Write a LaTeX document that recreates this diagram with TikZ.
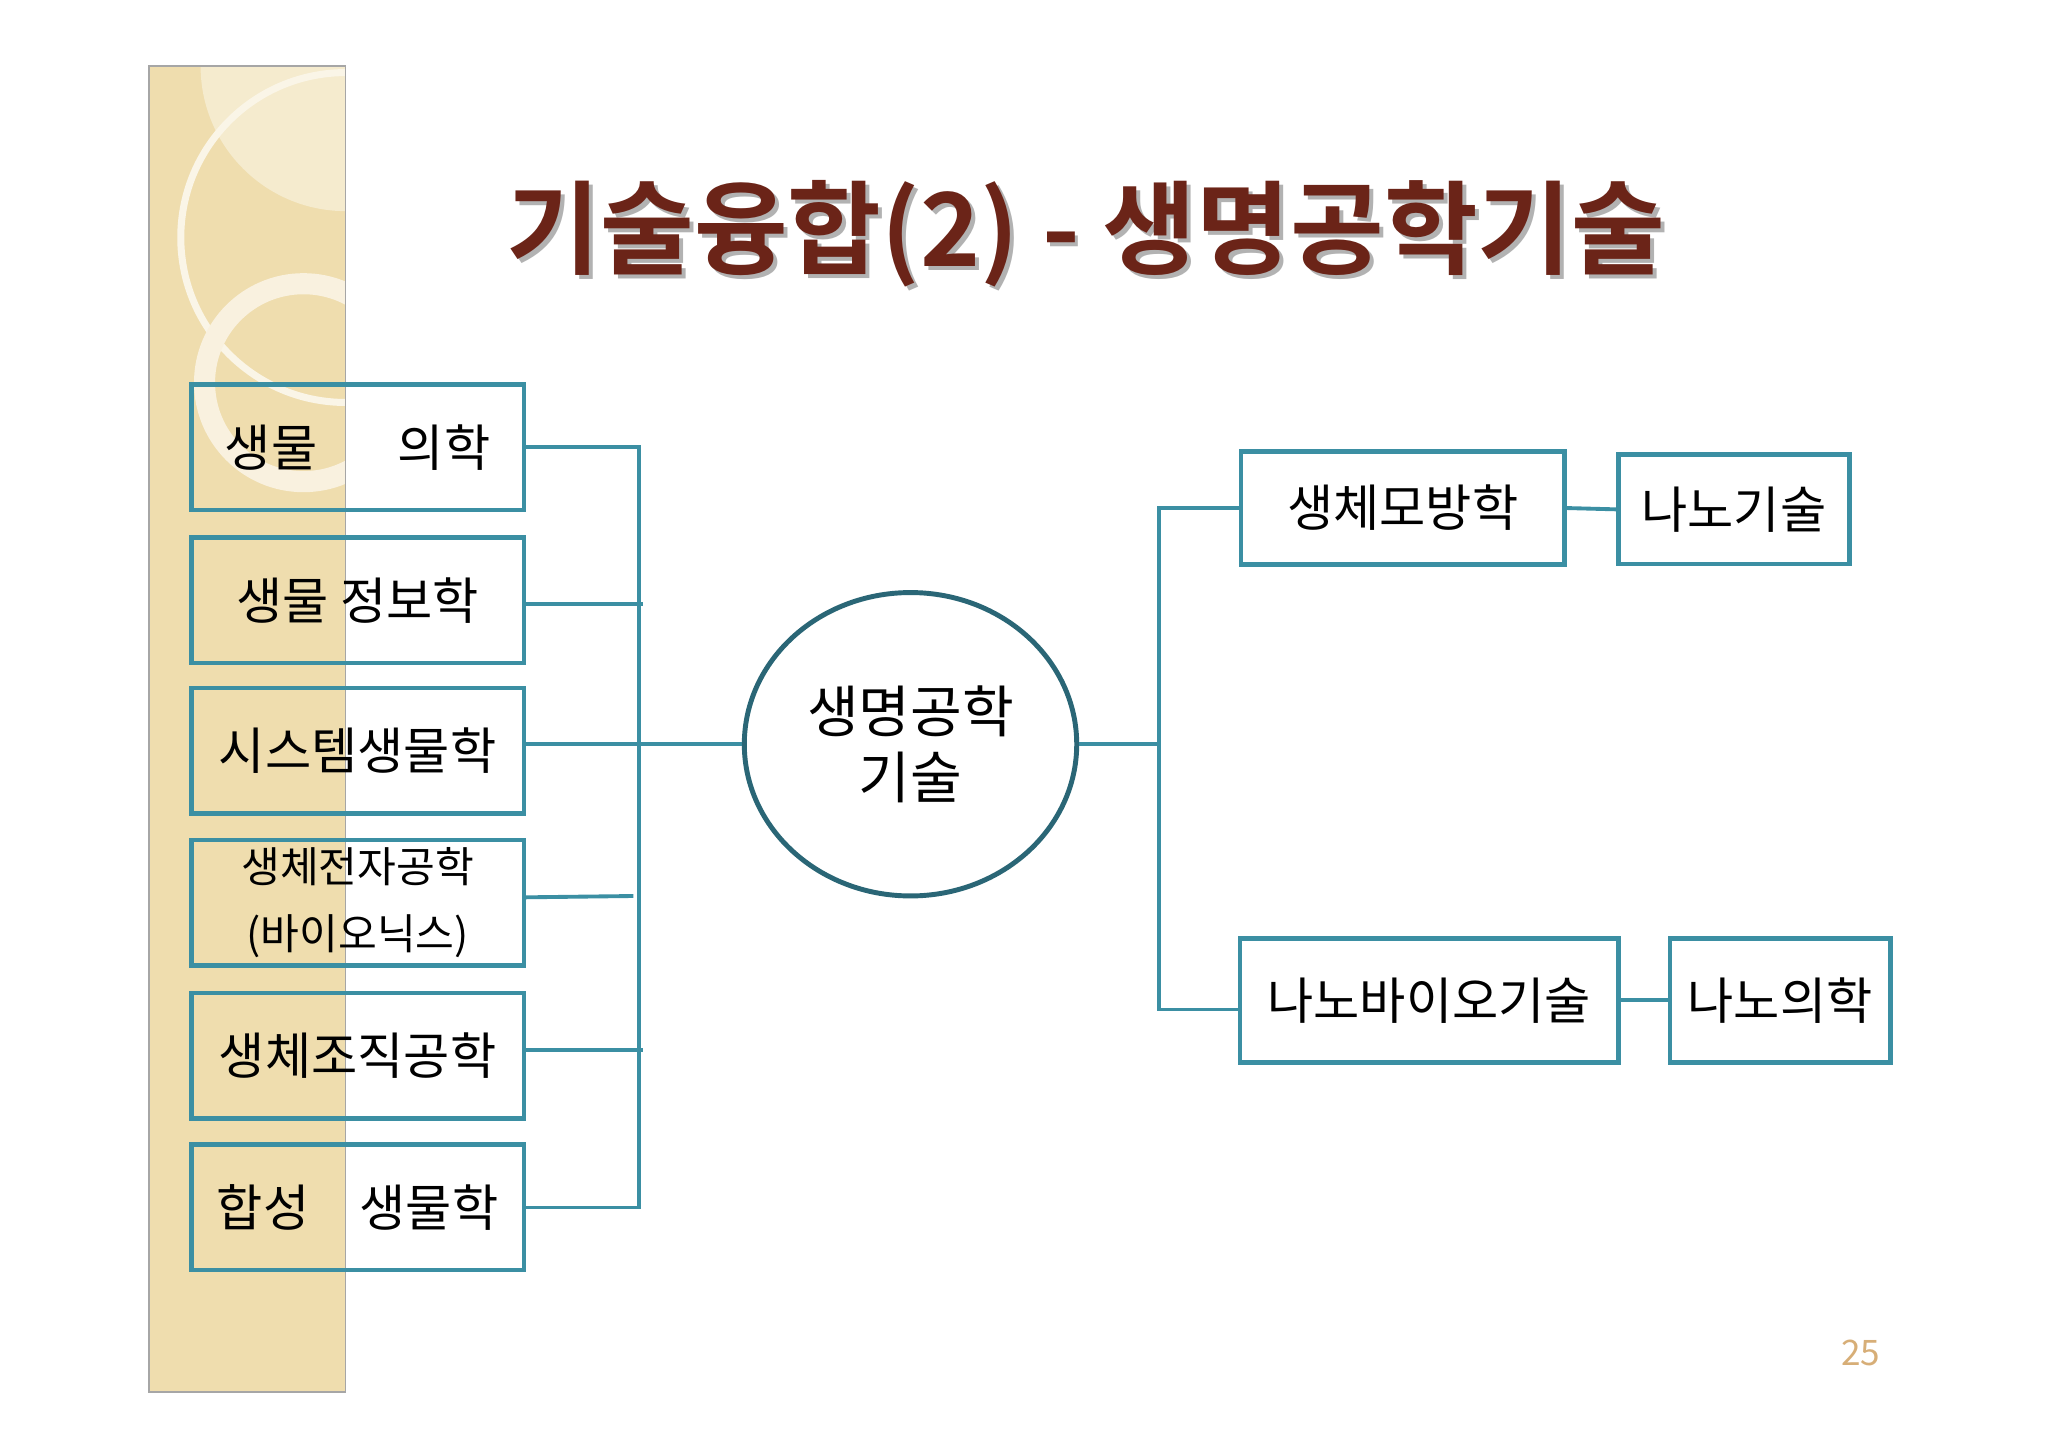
\documentclass[tikz,border=0pt]{standalone}
\usetikzlibrary{shapes.geometric}
\usepackage{fontspec}
\setmainfont{Noto Sans CJK KR}
\newfontfamily\titlefont{Noto Sans CJK KR Bold}
\definecolor{teal1}{HTML}{3B8FA3}
\definecolor{teal2}{HTML}{2A6676}
\definecolor{brown1}{HTML}{6B2418}
\definecolor{beige}{HTML}{EFDDAE}
\tikzset{
 lbox/.style={draw=teal1,line width=1.3pt,minimum width=252*0.3754pt,minimum height=95*0.3754pt,inner sep=0pt,font=\fontsize{14.3}{17}\selectfont},
 rbox/.style={draw=teal1,line width=1.3pt,inner sep=0pt,font=\fontsize{14.3}{17}\selectfont},
 conn/.style={teal1,line width=1.1pt}
}
\begin{document}
\begin{tikzpicture}[x=0.013196cm,y=-0.013196cm]
\useasboundingbox (0,0) rectangle (1552,1097);
\fill[white] (0,0) rectangle (1552,1097);
% left strip
\fill[beige] (113,50) rectangle (262,1055);
\begin{scope}
\clip (113,50) rectangle (262,1055);
\fill[beige!60!white] (262,50) circle (110);
\draw[white!70!beige,line width=2pt] (262,180) circle (125);
\draw[white!60!beige,line width=6pt] (230,290) circle (75);
\end{scope}
\draw[gray!70,line width=0.4pt] (113,50) rectangle (262,1055);
% title
\node[text=gray!60,font=\titlefont\fontsize{29}{32}\selectfont] at (826,180) {기술융합(2) - 생명공학기술};
\node[text=brown1,font=\titlefont\fontsize{29}{32}\selectfont] (title) at (823,177) {기술융합(2) - 생명공학기술};
% left boxes
\node[lbox] (b1) at (271,339) {생물\hspace{1.6em}의학};
\node[lbox] (b2) at (271,455) {생물 정보학};
\node[lbox] (b3) at (271,569) {시스템생물학};
\node[lbox,align=center,font=\fontsize{12}{19}\selectfont] (b4) at (271,684) {생체전자공학\\(바이오닉스)};
\node[lbox] (b5) at (271,800) {생체조직공학};
\node[lbox] (b6) at (271,915) {합성\hspace{1em}생물학};
\coordinate (bt) at (484,339);
\coordinate (bb) at (484,915);
\draw[conn] (b1.east |- 0,339) -- (bt) -- (bb) -- (b6.east |- 0,915);
\draw[conn] (b2.east |- 0,458) -- (487,458);
\draw[conn] (b3.east |- 0,564) -- (484,564);
\draw[conn] (b4.east |- 0,680) -- (480,679);
\draw[conn] (b5.east |- 0,796) -- (487,796);
% center
\node[draw=teal2,line width=1.4pt,ellipse,minimum width=252*0.3754pt,minimum height=230*0.3754pt,inner sep=0pt,align=center,font=\fontsize{16}{19}\selectfont] (c) at (690,564) {생명공학\\기술};
\draw[conn] (484,564) -- (c.west);
% right
\node[rbox,minimum width=245*0.3754pt,minimum height=86*0.3754pt] (r1) at (1063,385) {생체모방학};
\node[rbox,minimum width=175*0.3754pt,minimum height=83*0.3754pt] (r2) at (1314,386) {나노기술};
\node[rbox,minimum width=287*0.3754pt,minimum height=94*0.3754pt] (r3) at (1083,758) {나노바이오기술};
\node[rbox,minimum width=167*0.3754pt,minimum height=94*0.3754pt] (r4) at (1349,758) {나노의학};
\coordinate (rt) at (878,385);
\coordinate (rb) at (878,765);
\draw[conn] (c.east) -- (878,564);
\draw[conn] (r1.west) -- (rt) -- (rb) -- (r3.west |- rb);
\draw[conn] (r1.east) -- (r2.west);
\draw[conn] (r3.east) -- (r4.west);
\node[text=beige!50!brown,font=\fontsize{10}{12}\selectfont] (pg) at (1410,1025) {25};
\end{tikzpicture}
\end{document}
